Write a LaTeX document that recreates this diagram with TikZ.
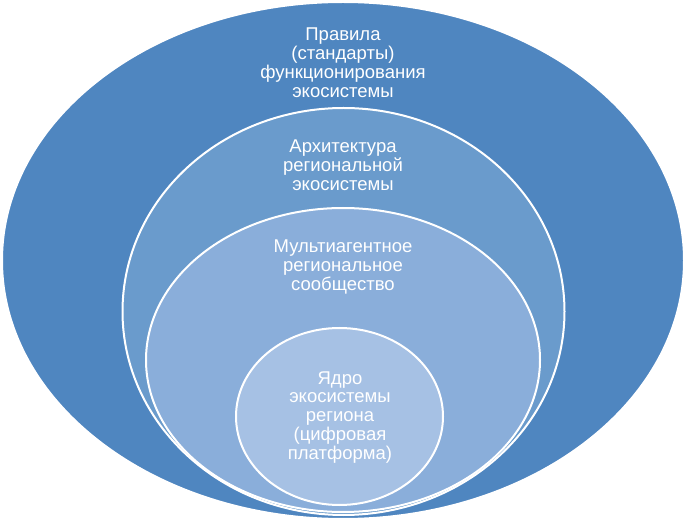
\documentclass[tikz,border=0pt]{standalone}
\usepackage{fontspec}
\setmainfont{Liberation Sans}
\definecolor{ringA}{RGB}{79,134,192}
\definecolor{ringB}{RGB}{106,155,204}
\definecolor{ringC}{RGB}{138,174,218}
\definecolor{ringD}{RGB}{166,193,228}
\def\rimwidth{2pt}

\begin{document}
\begin{tikzpicture}[x=1pt, y=-1pt,
    nodes = {font=\fontsize{18.5}{19}\selectfont, text=white, align=center, anchor=base}]
    \useasboundingbox (0,0) rectangle (686,521);
    % Nested ellipses, outermost first
    \foreach \cx/\cy/\rx/\ry/\col in {
          343/260.5/341/258.5/ringA,
          343.5/311.5/221/203.5/ringB,
          343/360/197/152/ringC,
          339.5/416.5/103.5/88.5/ringD} {
          \draw[fill=\col, draw=white, line width=\rimwidth]
            (\cx,\cy) ellipse [x radius=\rx, y radius=\ry];
        };
    % Labels, placed at the baseline of their last line
    \node (rules) at (343,98) {Правила\\(стандарты)\\функционирования\\экосистемы};
    \node (arch) at (343,191) {Архитектура\\региональной\\экосистемы};
    \node (community) at (343,291) {Мультиагентное\\региональное\\сообщество};
    \node (core) at (340,460) {Ядро\\экосистемы\\региона\\(цифровая\\платформа)};
\end{tikzpicture}
\end{document}
